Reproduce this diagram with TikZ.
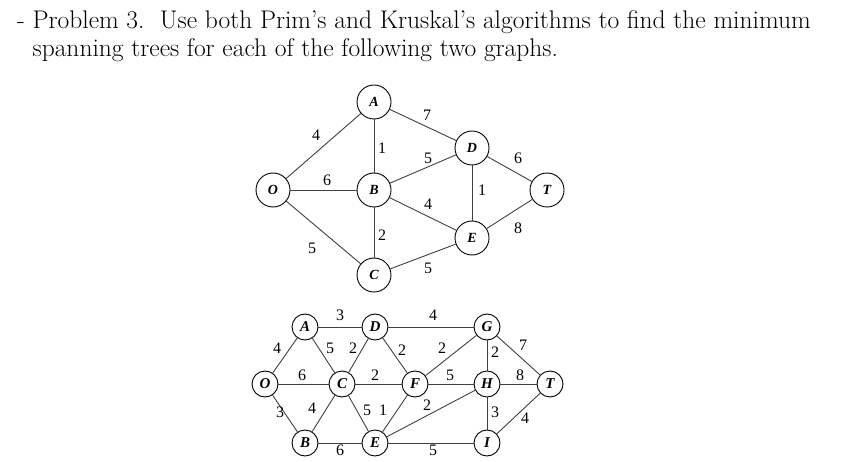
\documentclass[tikz,border=0pt]{standalone}
\usepackage{fontspec}
\newfontfamily\gf{Liberation Serif}
\begin{document}
\begin{tikzpicture}[x=1pt,y=-1pt,
  v/.style={circle,draw,line width=0.9pt,minimum size=34pt,inner sep=0pt,font=\gf\itshape\bfseries\fontsize{14}{14}\selectfont},
  w/.style={circle,draw,line width=0.9pt,minimum size=26pt,inner sep=0pt,font=\gf\itshape\bfseries\fontsize{15}{15}\selectfont},
  lb/.style={font=\gf\fontsize{16}{16}\selectfont,inner sep=0pt},
  e/.style={line width=0.9pt,draw=black!75}]
\useasboundingbox (0,0) rectangle (854,462);
\node[anchor=west,inner sep=0pt,font=\fontsize{25.5}{30}\selectfont] (t1) at (17,22) {- Problem 3.\ \ Use both Prim's and Kruskal's algorithms to find the minimum};
\node[anchor=west,inner sep=0pt,font=\fontsize{25.5}{30}\selectfont] (t2) at (17,50) {\ \ spanning trees for each of the following two graphs.};
% top graph
\node[v] (A) at (374,102) {A};
\node[v] (B) at (374,190) {B};
\node[v] (C) at (374,275) {C};
\node[v] (O) at (273,190) {O};
\node[v] (D) at (472,148) {D};
\node[v] (E) at (472,238) {E};
\node[v] (T) at (547,190) {T};
\draw[e] (O)--(A) node[lb] at (316,135) {4};
\draw[e] (A)--(D) node[lb] at (427,115) {7};
\draw[e] (A)--(B) node[lb] at (382,148) {1};
\draw[e] (B)--(D) node[lb] at (428,158) {5};
\draw[e] (O)--(B) node[lb] at (327,180) {6};
\draw[e] (D)--(T) node[lb] at (518,158) {6};
\draw[e] (D)--(E) node[lb] at (482,190) {1};
\draw[e] (B)--(E) node[lb] at (428,204) {4};
\draw[e] (E)--(T) node[lb] at (518,228) {8};
\draw[e] (O)--(C) node[lb] at (312,248) {5};
\draw[e] (B)--(C) node[lb] at (382,235) {2};
\draw[e] (C)--(E) node[lb] at (428,268) {5};
% bottom graph
\node[w] (a) at (305,327) {A};
\node[w] (d) at (375,327) {D};
\node[w] (g) at (487,327) {G};
\node[w] (o) at (265,384) {O};
\node[w] (c) at (342,384) {C};
\node[w] (f) at (415,384) {F};
\node[w] (h) at (487,384) {H};
\node[w] (t) at (550,384) {T};
\node[w] (b) at (305,443) {B};
\node[w] (ee) at (375,443) {E};
\node[w] (i) at (487,443) {I};
\draw[e] (a)--(d) node[lb] at (340,315) {3};
\draw[e] (d)--(g) node[lb] at (433,315) {4};
\draw[e] (o)--(a) node[lb] at (277,348) {4};
\draw[e] (a)--(c) node[lb] at (330,348) {5};
\draw[e] (c)--(d) node[lb] at (353,348) {2};
\draw[e] (d)--(f) node[lb] at (402,350) {2};
\draw[e] (f)--(g) node[lb] at (442,348) {2};
\draw[e] (g)--(h) node[lb] at (495,352) {2};
\draw[e] (g)--(t) node[lb] at (523,345) {7};
\draw[e] (o)--(c) node[lb] at (302,375) {6};
\draw[e] (c)--(f) node[lb] at (375,375) {2};
\draw[e] (f)--(h) node[lb] at (450,375) {5};
\draw[e] (h)--(t) node[lb] at (520,375) {8};
\draw[e] (o)--(b) node[lb] at (280,412) {3};
\draw[e] (c)--(b) node[lb] at (312,408) {4};
\draw[e] (c)--(ee) node[lb] at (367,410) {5};
\draw[e] (ee)--(f) node[lb] at (383,410) {1};
\draw[e] (ee)--(h) node[lb] at (427,405) {2};
\draw[e] (h)--(i) node[lb] at (495,412) {3};
\draw[e] (i)--(t) node[lb] at (525,418) {4};
\draw[e] (b)--(ee) node[lb] at (340,450) {6};
\draw[e] (ee)--(i) node[lb] at (433,450) {5};
\end{tikzpicture}
\end{document}
